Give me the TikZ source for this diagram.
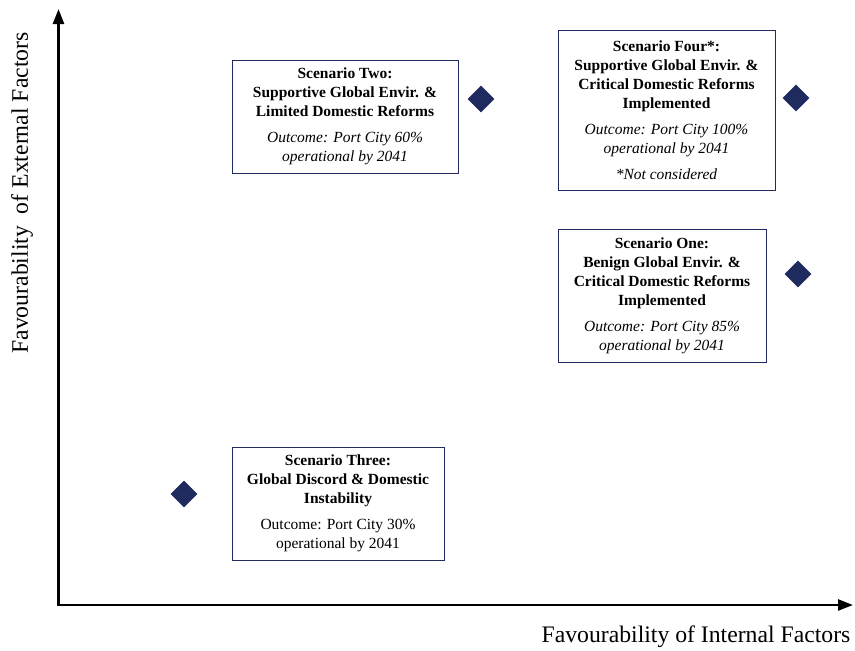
\documentclass[tikz,border=0pt]{standalone}
\usepackage{fontspec}
\setmainfont{Liberation Serif}
\usepackage{xcolor}
\usepackage{tikz}
\usetikzlibrary{positioning}
\usetikzlibrary{shapes.geometric}
\usetikzlibrary{arrows.meta}
\definecolor{navy}{RGB}{31,42,94}
\tikzset{scen/.style={draw=navy, line width=0.9pt, align=center, inner sep=0pt, font=\fontsize{15.5}{19}\selectfont}}
\tikzset{gem/.style={diamond, fill=navy, inner sep=0pt, minimum size=27pt}}
\tikzset{axlab/.style={font=\fontsize{23.7}{26}\selectfont}}

\begin{document}
\begin{tikzpicture}[x=1pt,y=-1pt]
\useasboundingbox (0,0) rectangle (855,651);

% axes
\coordinate (ytop) at (58.5,9);
\coordinate (xend) at (853,605);
\draw [line width=2.5pt, line join=miter, {Triangle[length=15pt,width=11pt]}-{Triangle[length=15pt,width=11pt]}] (ytop) |- (xend);
\node[axlab, rotate=90] (ylab) at (22,193) {Favourability\ \ of External Factors};
\node[axlab] (xlab) at (696,637) {Favourability of Internal Factors};

% scenario boxes
\node[scen, minimum width=226pt, minimum height=113pt] (two) at (345,116.5) {\textbf{Scenario Two:}\\ \textbf{Supportive Global Envir. \&}\\ \textbf{Limited Domestic Reforms}\\[7pt] \textit{Outcome: Port City 60\%}\\ \textit{operational by 2041}};
\node[scen, minimum width=217pt, minimum height=160pt] (four) at (666.5,110) {\textbf{Scenario Four*:}\\ \textbf{Supportive Global Envir. \&}\\ \textbf{Critical Domestic Reforms}\\ \textbf{Implemented}\\[7pt] \textit{Outcome: Port City 100\%}\\ \textit{operational by 2041}\\[7pt] \textit{*Not considered}};
\node[scen, minimum width=208pt, minimum height=133pt] (one) at (662,295.5) {\textbf{Scenario One:}\\ \textbf{Benign Global Envir. \&}\\ \textbf{Critical Domestic Reforms}\\ \textbf{Implemented}\\[7pt] \textit{Outcome: Port City 85\%}\\ \textit{operational by 2041}};
\node[scen, minimum width=212pt, minimum height=113pt] (three) at (338,503.5) {\textbf{Scenario Three:}\\ \textbf{Global Discord \& Domestic}\\ \textbf{Instability}\\[7pt] Outcome: Port City 30\%\\ operational by 2041};

% markers
\node[gem] (dtwo) at (481,99) {};
\node[gem] (dfour) at (796,98) {};
\node[gem] (done) at (798,274) {};
\node[gem] (dthree) at (184,494) {};
\end{tikzpicture}
\end{document}
